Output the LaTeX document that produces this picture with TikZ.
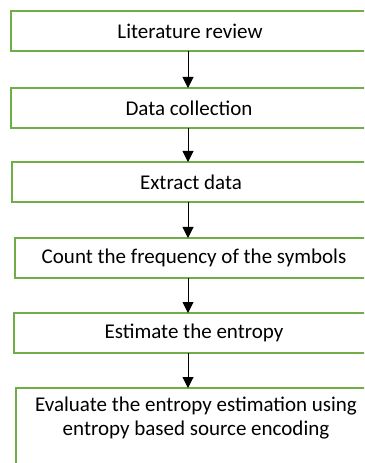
\documentclass[tikz,border=0pt]{standalone}
\usepackage{fontspec}
\setmainfont{Carlito}
\usetikzlibrary{arrows.meta}
\definecolor{boxgreen}{RGB}{112,173,71}
\tikzset{
  stepfont/.style={font=\fontsize{21bp}{23.5bp}\selectfont},
  stepbox/.style={draw=boxgreen, line width=2bp, rectangle, outer sep=0pt,
    inner sep=0pt, minimum height=40bp, align=center, stepfont},
  flow/.style={draw=black, line width=1bp,
    -{Triangle[length=11bp,width=11bp]}},
  caption/.style={align=center, inner sep=0pt, stepfont}
}
\begin{document}
\begin{tikzpicture}[x=1bp,y=-1bp]
  \useasboundingbox (0,0) rectangle (364,463);
  \clip (0,0) rectangle (364,463);
  % process steps (the boxes run past the right edge)
  \node[stepbox, minimum width=358bp] (b1) at (190,31)  {Literature review};
  \node[stepbox, minimum width=356bp] (b2) at (189,108) {Data collection};
  \node[stepbox, minimum width=358bp] (b3) at (191,182) {Extract data};
  \node[stepbox, minimum width=358bp] (b4) at (194,258) {Count the frequency of the symbols};
  \node[stepbox, minimum width=360bp] (b5) at (194,333) {Estimate the entropy};
  \node[stepbox, minimum width=360bp, minimum height=90bp] (b6) at (196,433) {};
  \node[caption] (t6) at (196,418) {Evaluate the entropy estimation using\\entropy based source encoding};
  % arrows run down a common vertical line
  \coordinate (ax) at (188,0);
  \draw[flow] (b1.south -| ax) -- (b2.north -| ax);
  \draw[flow] (b2.south -| ax) -- (b3.north -| ax);
  \draw[flow] (b3.south -| ax) -- (b4.north -| ax);
  \draw[flow] (b4.south -| ax) -- (b5.north -| ax);
  \draw[flow] (b5.south -| ax) -- (b6.north -| ax);
\end{tikzpicture}
\end{document}
